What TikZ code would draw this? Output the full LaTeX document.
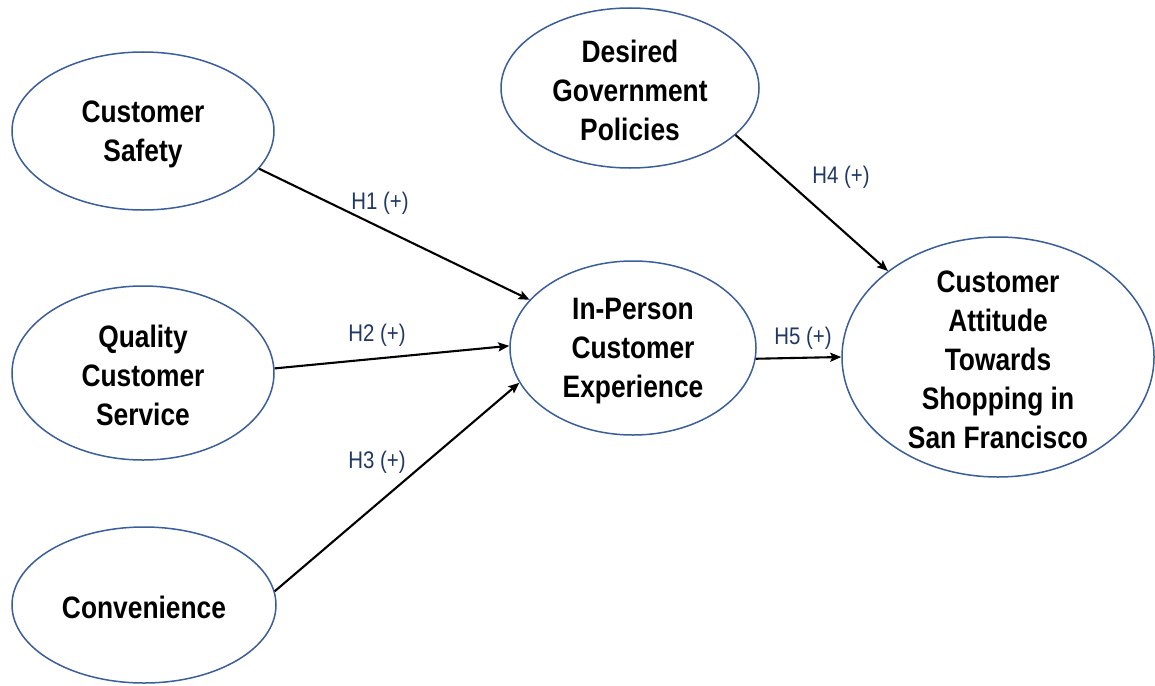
\documentclass[tikz,border=0pt]{standalone}
\usepackage{fontspec}
\usetikzlibrary{shapes.geometric,arrows.meta}
\newfontfamily\nodefont{Liberation Sans}[FakeStretch=0.85]
\definecolor{ellblue}{RGB}{58,94,154}
\definecolor{hypnavy}{RGB}{31,56,100}
\begin{document}
\begin{tikzpicture}[x=1pt,y=-1pt,
  construct/.style={ellipse,draw=ellblue,line width=1.5pt,inner sep=0pt,fill=white},
  ctext/.style={align=center,text=black,font=\nodefont\bfseries\fontsize{31}{39}\selectfont},
  path/.style={draw=black,line width=2.1pt,-{Stealth[length=11pt,width=9pt,inset=2pt]}},
  hyp/.style={text=hypnavy,font=\nodefont\fontsize{24}{28}\selectfont}]
\useasboundingbox (0,0) rectangle (1155,685);

% latent constructs
\node[construct,minimum width=262,minimum height=158] (cs) at (143,131) {};
\node[construct,minimum width=262,minimum height=174] (qs) at (143,373) {};
\node[construct,minimum width=264,minimum height=156] (cv) at (144,605) {};
\node[construct,minimum width=258,minimum height=160] (dg) at (630,88) {};
\node[construct,minimum width=246,minimum height=174] (ip) at (633,348) {};
\node[construct,minimum width=312,minimum height=240] (ca) at (998,357) {};

\node[ctext] (cst) at ([yshift=-3]cs) {Customer\\Safety};
\node[ctext] (qst) at ([yshift=-2]qs) {Quality\\Customer\\Service};
\node[ctext] (cvt) at ([yshift=-2]cv) {Convenience};
\node[ctext] (dgt) at ([yshift=-2]dg) {Desired\\Government\\Policies};
\node[ctext] (ipt) at ([yshift=-3]ip) {In-Person\\Customer\\Experience};
\node[ctext] (cat) at ([yshift=-3]ca) {Customer\\Attitude\\Towards\\Shopping in\\San Francisco};

% hypothesised paths
\draw[path] (cs.-18.7) -- (ip.155.6);
\draw[path] (qs.2.2) -- (ip.179.5);
\draw[path] (cv.6.6) -- (ip.197.8);
\draw[path] (dg.-24.6) -- (ca.142.6);
\draw[path] (ip.-5) -- (ca.180.7);

% hypothesis labels
\node[hyp] (h1) at (380,203) {H1 (+)};
\node[hyp] (h2) at (377,335) {H2 (+)};
\node[hyp] (h3) at (377,462) {H3 (+)};
\node[hyp] (h4) at (841,177) {H4 (+)};
\node[hyp] (h5) at (803,338) {H5 (+)};
\end{tikzpicture}
\end{document}
